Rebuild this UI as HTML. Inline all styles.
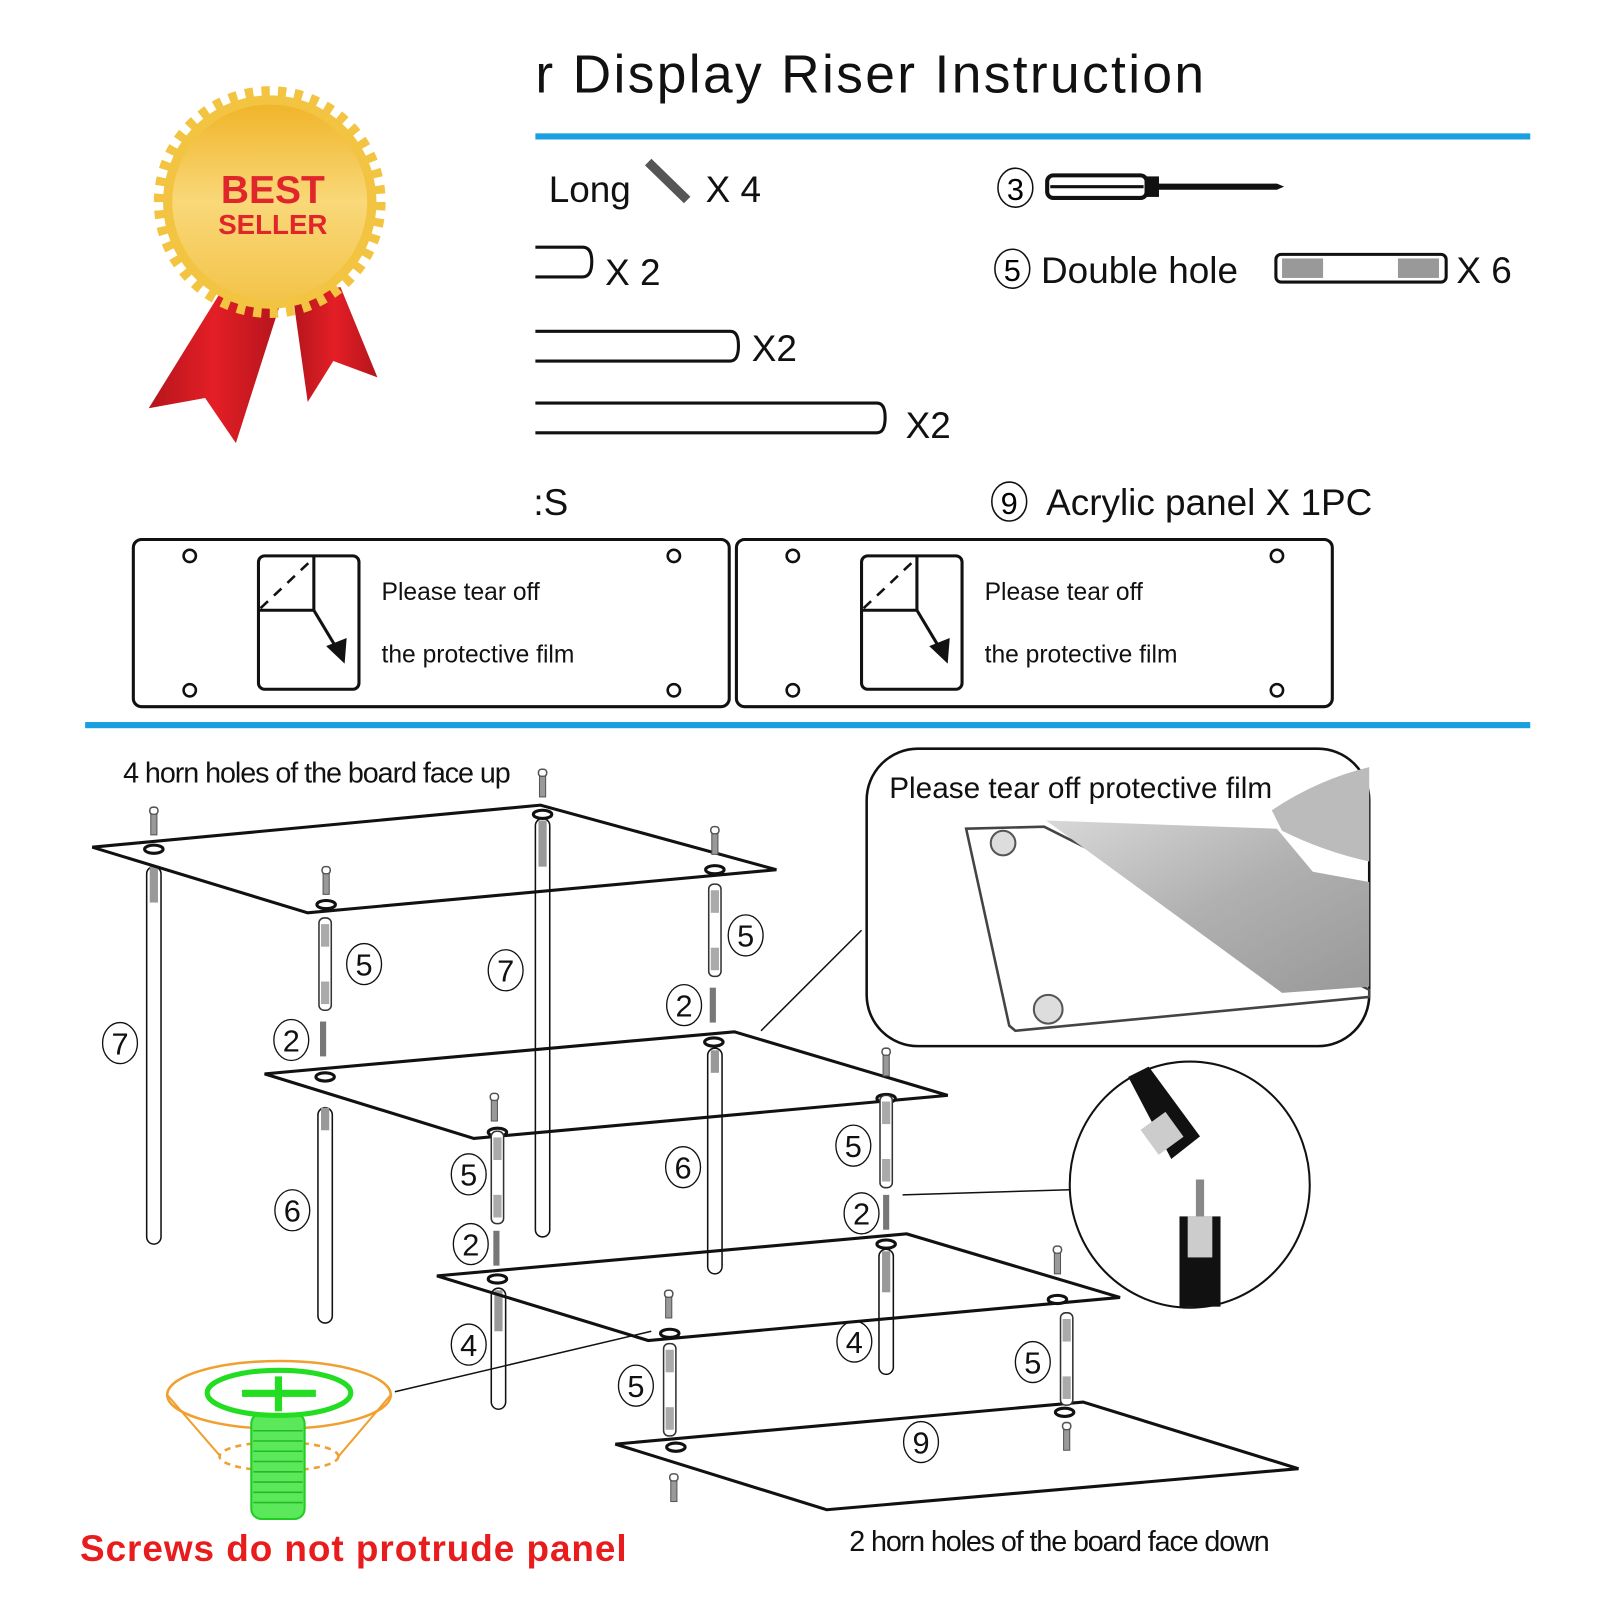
<!DOCTYPE html>
<html><head><meta charset="utf-8"><style>
html,body{margin:0;padding:0;background:#fff}
svg{display:block}
text{font-family:"Liberation Sans",sans-serif}
</style></head><body>
<svg width="1600" height="1600" viewBox="0 0 1560 1560" xmlns="http://www.w3.org/2000/svg">
<defs>
<linearGradient id="gold" x1="0" y1="0" x2="0" y2="1"><stop offset="0" stop-color="#f0b52a"/><stop offset=".5" stop-color="#f9d879"/><stop offset="1" stop-color="#f3c44a"/></linearGradient>
<linearGradient id="red" x1="0" y1="0" x2="1" y2="0"><stop offset="0" stop-color="#b5151c"/><stop offset=".5" stop-color="#e41e26"/><stop offset="1" stop-color="#b5151c"/></linearGradient>
<linearGradient id="film" x1="0" y1="0" x2="1" y2="1"><stop offset="0" stop-color="#d8d8d8"/><stop offset=".5" stop-color="#b0b0b0"/><stop offset="1" stop-color="#999"/></linearGradient>
<g id="screw"><rect x="-4" y="0" width="8" height="7" rx="3" fill="#fff" stroke="#555" stroke-width="1.5"/><rect x="-3" y="7" width="6" height="20" fill="#999" stroke="#555" stroke-width="1"/></g>
<g id="tube"><rect x="-6" y="0" width="12" height="90" rx="5" fill="#fff" stroke="#333" stroke-width="1.5"/><rect x="-4" y="6" width="8" height="22" fill="#aaa"/><rect x="-4" y="62" width="8" height="22" fill="#aaa"/></g>
<g id="stud"><rect x="-3" y="0" width="6" height="34" fill="#777"/></g>
</defs>

<!-- badge -->
<polygon points="215,285 145,398 200,388 230,432 272,300" fill="url(#red)"/>
<polygon points="285,285 300,392 325,352 368,368 332,280" fill="url(#red)"/>
<circle cx="263" cy="197" r="104" fill="#f2c441"/>
<circle cx="263" cy="197" r="107" fill="none" stroke="#f2c441" stroke-width="12" stroke-dasharray="8 8"/>
<circle cx="263" cy="197" r="95" fill="url(#gold)"/>
<text x="266" y="198" font-size="38" font-weight="bold" fill="#e0262b" text-anchor="middle">BEST</text>
<text x="266" y="228" font-size="27" font-weight="bold" fill="#e0262b" text-anchor="middle">SELLER</text>

<!-- title -->
<text x="522" y="90" font-size="52" fill="#111" textLength="652">r Display Riser Instruction</text>
<rect x="522" y="130" width="970" height="6" fill="#1aa0e0"/>

<!-- items -->
<text x="535" y="197" font-size="36" fill="#111">Long</text>
<line x1="632" y1="158" x2="670" y2="195" stroke="#555" stroke-width="9"/>
<text x="688" y="197" font-size="36" fill="#111">X  4</text>
<ellipse cx="990" cy="183" rx="17" ry="19" fill="none" stroke="#111" stroke-width="1.5"/><text x="990" y="195" font-size="30" font-family="Liberation Serif" text-anchor="middle">3</text>
<rect x="1021" y="171" width="97" height="22" rx="6" fill="#fff" stroke="#111" stroke-width="4"/>
<line x1="1024" y1="182" x2="1115" y2="182" stroke="#111" stroke-width="3"/>
<rect x="1116" y="172" width="14" height="20" fill="#111"/>
<polygon points="1128,179 1245,179 1252,182 1245,185 1128,185" fill="#111"/>

<path d="M522,241 H568 Q577,241 577,255 Q577,270 568,270 H522" fill="none" stroke="#111" stroke-width="3"/>
<text x="590" y="278" font-size="36" fill="#111">X 2</text>
<ellipse cx="987" cy="262" rx="17" ry="19" fill="none" stroke="#111" stroke-width="1.5"/><text x="987" y="274" font-size="30" font-family="Liberation Serif" text-anchor="middle">5</text>
<text x="1015" y="276" font-size="36" fill="#111">Double hole</text>
<rect x="1244" y="248" width="166" height="27" rx="5" fill="#fff" stroke="#111" stroke-width="3"/>
<rect x="1250" y="252" width="40" height="19" fill="#999"/><rect x="1363" y="252" width="40" height="19" fill="#999"/>
<text x="1420" y="276" font-size="36" fill="#111">X 6</text>

<path d="M522,323 H712 Q720,323 720,337 Q720,352 712,352 H522" fill="none" stroke="#111" stroke-width="3"/>
<text x="733" y="352" font-size="36" fill="#111">X2</text>
<path d="M522,393 H855 Q863,393 863,407 Q863,422 855,422 H522" fill="none" stroke="#111" stroke-width="3"/>
<text x="883" y="427" font-size="36" fill="#111">X2</text>
<text x="520" y="502" font-size="36" fill="#111">:S</text>
<ellipse cx="984" cy="489" rx="17" ry="19" fill="none" stroke="#111" stroke-width="1.5"/><text x="984" y="501" font-size="30" font-family="Liberation Serif" text-anchor="middle">9</text>
<text x="1020" y="502" font-size="36" fill="#111">Acrylic panel X 1PC</text>

<!-- film panels -->
<g id="fp" fill="none" stroke="#111">
<rect x="130" y="526" width="581" height="163" rx="8" stroke-width="3"/>
<circle cx="185" cy="542" r="6" stroke-width="2.5"/><circle cx="657" cy="542" r="6" stroke-width="2.5"/>
<circle cx="185" cy="673" r="6" stroke-width="2.5"/><circle cx="657" cy="673" r="6" stroke-width="2.5"/>
<rect x="252" y="542" width="98" height="130" rx="6" stroke-width="3"/>
<line x1="252" y1="595" x2="306" y2="595" stroke-width="3"/>
<line x1="306" y1="542" x2="306" y2="595" stroke-width="3"/>
<line x1="254" y1="593" x2="306" y2="544" stroke-width="2.5" stroke-dasharray="10 8"/>
<line x1="306" y1="595" x2="327" y2="630" stroke-width="3"/>
<polygon points="318,630 338,622 336,647" fill="#111" stroke="none"/>
<text x="372" y="585" font-size="24" fill="#111" stroke="none">Please tear off</text>
<text x="372" y="646" font-size="24" fill="#111" stroke="none">the protective film</text>
</g>
<use href="#fp" x="588"/>
<rect x="83" y="704" width="1409" height="6" fill="#1aa0e0"/>

<!-- assembly -->
<text x="120" y="763" font-size="28" fill="#111" textLength="378">4 horn holes of the board face up</text>
<g fill="none" stroke="#111" stroke-width="1.5">
<rect x="143" y="845" width="14" height="368" rx="7"/>
<rect x="522" y="798" width="14" height="408" rx="7"/>
<rect x="310" y="1080" width="14" height="210" rx="7"/>
<rect x="690" y="1022" width="14" height="220" rx="7"/>
<rect x="479" y="1256" width="14" height="118" rx="7"/>
<rect x="857" y="1218" width="14" height="122" rx="7"/>
</g>
<g fill="#999"><rect x="146" y="845" width="8" height="35"/><rect x="525" y="800" width="8" height="45"/><rect x="313" y="1080" width="8" height="22"/><rect x="693" y="1024" width="8" height="22"/><rect x="482" y="1258" width="8" height="40"/><rect x="860" y="1220" width="8" height="40"/></g>
<g fill="none" stroke="#111" stroke-width="3">
<polygon points="90,826 527,785 757,848 300,890"/>
<polygon points="258,1047 716,1006 924,1068 462,1110"/>
<polygon points="426,1244 884,1203 1092,1265 632,1307"/>
<polygon points="600,1408 1056,1367 1266,1432 806,1472"/>
</g>
<g fill="#fff" stroke="#111" stroke-width="3">
<ellipse cx="150" cy="828" rx="9" ry="4"/><ellipse cx="529" cy="794" rx="9" ry="4"/><ellipse cx="697" cy="848" rx="9" ry="4"/><ellipse cx="318" cy="882" rx="9" ry="4"/>
<ellipse cx="317" cy="1050" rx="9" ry="4"/><ellipse cx="696" cy="1016" rx="9" ry="4"/><ellipse cx="864" cy="1071" rx="9" ry="4"/><ellipse cx="485" cy="1104" rx="9" ry="4"/>
<ellipse cx="485" cy="1247" rx="9" ry="4"/><ellipse cx="864" cy="1213" rx="9" ry="4"/><ellipse cx="1031" cy="1267" rx="9" ry="4"/><ellipse cx="653" cy="1300" rx="9" ry="4"/>
<ellipse cx="659" cy="1411" rx="9" ry="4"/><ellipse cx="1038" cy="1377" rx="9" ry="4"/>
</g>
<use href="#screw" x="150" y="787"/><use href="#screw" x="529" y="750"/><use href="#screw" x="318" y="845"/><use href="#screw" x="697" y="806"/>
<use href="#screw" x="482" y="1066"/><use href="#screw" x="864" y="1022"/><use href="#screw" x="1031" y="1215"/><use href="#screw" x="652" y="1258"/>
<use href="#screw" x="1040" y="1387"/><use href="#screw" x="657" y="1437"/>
<use href="#tube" x="317" y="895"/><use href="#tube" x="697" y="862"/><use href="#tube" x="485" y="1103"/><use href="#tube" x="864" y="1068"/><use href="#tube" x="653" y="1310"/><use href="#tube" x="1040" y="1280"/>
<use href="#stud" x="315" y="996"/><use href="#stud" x="695" y="963"/><use href="#stud" x="484" y="1200"/><use href="#stud" x="864" y="1165"/>

<g font-family="Liberation Serif" font-size="30" text-anchor="middle" fill="#111">
<g fill="none" stroke="#111" stroke-width="1.3">
<ellipse cx="117" cy="1017" rx="17" ry="20"/><ellipse cx="355" cy="940" rx="17" ry="20"/><ellipse cx="493" cy="946" rx="17" ry="20"/><ellipse cx="727" cy="912" rx="17" ry="20"/>
<ellipse cx="284" cy="1014" rx="17" ry="20"/><ellipse cx="667" cy="980" rx="17" ry="20"/><ellipse cx="285" cy="1180" rx="17" ry="20"/><ellipse cx="457" cy="1145" rx="17" ry="20"/>
<ellipse cx="666" cy="1138" rx="17" ry="20"/><ellipse cx="832" cy="1117" rx="17" ry="20"/><ellipse cx="459" cy="1213" rx="17" ry="20"/><ellipse cx="840" cy="1183" rx="17" ry="20"/>
<ellipse cx="457" cy="1311" rx="17" ry="20"/><ellipse cx="833" cy="1308" rx="17" ry="20"/><ellipse cx="620" cy="1351" rx="17" ry="20"/><ellipse cx="1007" cy="1328" rx="17" ry="20"/><ellipse cx="898" cy="1406" rx="17" ry="20"/>
</g>
<text x="117" y="1028">7</text><text x="355" y="951">5</text><text x="493" y="957">7</text><text x="727" y="923">5</text>
<text x="284" y="1025">2</text><text x="667" y="991">2</text><text x="285" y="1191">6</text><text x="457" y="1156">5</text>
<text x="666" y="1149">6</text><text x="832" y="1128">5</text><text x="459" y="1224">2</text><text x="840" y="1194">2</text>
<text x="457" y="1322">4</text><text x="833" y="1319">4</text><text x="620" y="1362">5</text><text x="1007" y="1339">5</text><text x="898" y="1417">9</text>
</g>

<!-- callout photo -->
<line x1="742" y1="1005" x2="840" y2="907" stroke="#111" stroke-width="1.5"/>
<rect x="845" y="730" width="490" height="290" rx="50" fill="#fff" stroke="#111" stroke-width="2.5"/>
<text x="867" y="778" font-size="29" fill="#111">Please tear off protective film</text>
<polygon points="942,808 1018,806 1335,965 1335,972 990,1005 984,1000" fill="#fff" stroke="#444" stroke-width="2.5"/>
<polygon points="1020,800 1245,808 1280,850 1335,860 1335,962 1250,968" fill="url(#film)"/>
<path d="M1240,790 Q1285,760 1335,748 L1335,840 Q1290,830 1250,810 Z" fill="#bbb"/>
<circle cx="978" cy="822" r="12" fill="#ddd" stroke="#555" stroke-width="2"/>
<circle cx="1022" cy="984" r="14" fill="#ddd" stroke="#555" stroke-width="2"/>

<!-- circle detail -->
<line x1="880" y1="1165" x2="1043" y2="1160" stroke="#111" stroke-width="1.5"/>
<ellipse cx="1160" cy="1155" rx="117" ry="120" fill="#fff" stroke="#111" stroke-width="2"/>
<polygon points="1100,1050 1120,1040 1170,1108 1142,1130" fill="#111"/>
<rect x="1118" y="1090" width="30" height="30" fill="#ccc" transform="rotate(-36 1133 1105)"/>
<rect x="1150" y="1186" width="40" height="88" fill="#111"/>
<rect x="1158" y="1186" width="24" height="40" fill="#ccc"/>
<rect x="1166" y="1150" width="8" height="36" fill="#888"/>

<!-- screw detail -->
<line x1="385" y1="1357" x2="635" y2="1298" stroke="#111" stroke-width="1.5"/>
<path d="M163,1360 L215,1420 M381,1360 L330,1420" stroke="#f0a030" stroke-width="2" fill="none"/>
<ellipse cx="272" cy="1360" rx="109" ry="33" fill="none" stroke="#f0a030" stroke-width="2.5"/>
<ellipse cx="272" cy="1420" rx="58" ry="14" fill="none" stroke="#f0a030" stroke-width="2.5" stroke-dasharray="6 5"/>
<rect x="245" y="1378" width="52" height="103" rx="10" fill="#5be85b" stroke="#22cc22" stroke-width="2"/>
<g stroke="#22bb22" stroke-width="1.5"><line x1="247" y1="1395" x2="295" y2="1395"/><line x1="247" y1="1405" x2="295" y2="1405"/><line x1="247" y1="1415" x2="295" y2="1415"/><line x1="247" y1="1425" x2="295" y2="1425"/><line x1="247" y1="1435" x2="295" y2="1435"/><line x1="247" y1="1445" x2="295" y2="1445"/><line x1="247" y1="1455" x2="295" y2="1455"/><line x1="247" y1="1465" x2="295" y2="1465"/></g>
<ellipse cx="272" cy="1358" rx="70" ry="22" fill="#fff" stroke="#22dd22" stroke-width="5"/>
<rect x="236" y="1355" width="72" height="7" fill="#22dd22"/><rect x="268" y="1342" width="7" height="34" fill="#22dd22"/>
<text x="78" y="1522" font-size="36" font-weight="bold" fill="#e81c1c" textLength="533">Screws do not protrude panel</text>
<text x="828" y="1512" font-size="28" fill="#111" textLength="410">2 horn holes of the board face down</text>
</svg>
</body></html>
